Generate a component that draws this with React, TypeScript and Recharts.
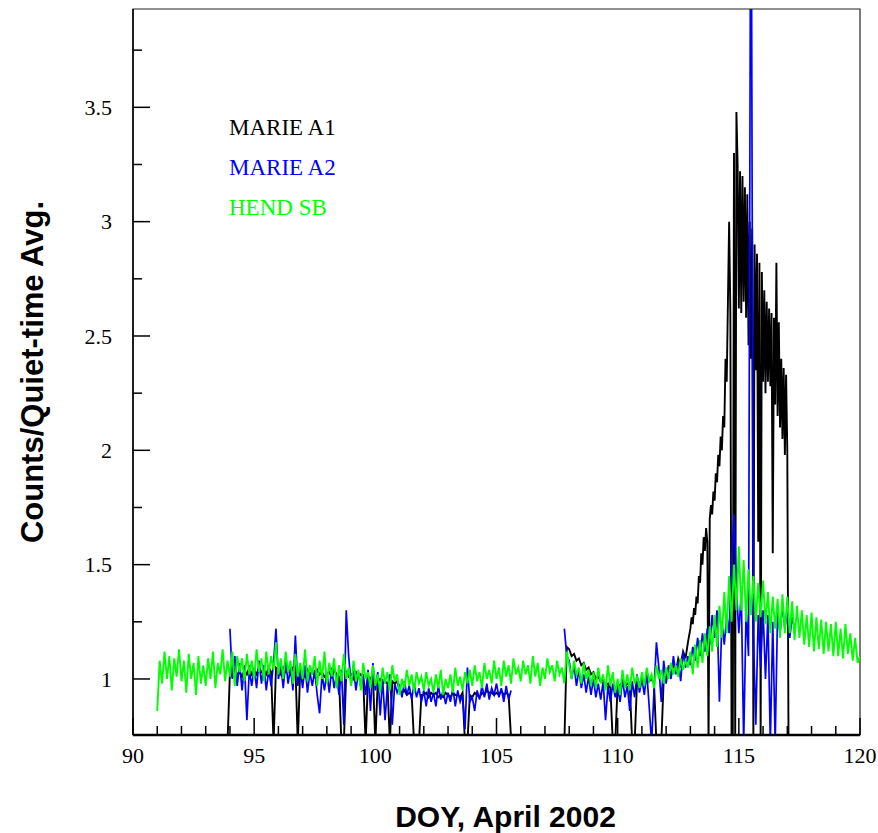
import React from 'react';
import { ComposedChart, Line, XAxis, YAxis, Legend, ReferenceArea, Label } from 'recharts';

const STEP = 0.1;
const FINE_STEP = 0.05;
const HEND_START = 91.0;
const A2_START = 94.0;
const A2_LATE_START = 107.8;
const A1_START = 93.9;
const A1_LATE_START = 107.8;
const A1_PEAK_START = 113.0;

// HEND SB (green), 91.0 .. 120.0 every 0.1 day
const hendSB: number[] = [
  0.86, 1.08, 0.98, 1.12, 1.0, 1.10, 0.95, 1.09, 1.01, 1.13,
  0.99, 1.08, 0.94, 1.11, 1.0, 1.07, 0.93, 1.10, 0.98, 1.06,
  0.97, 1.09, 1.0, 1.12, 0.96, 1.07, 1.02, 1.13, 0.99, 1.08,
  1.01, 1.12, 0.97, 1.10, 1.03, 1.09, 0.99, 1.11, 1.02, 1.08,
  1.0, 1.13, 1.03, 1.09, 0.99, 1.12, 1.02, 1.10, 1.04, 1.16,
  1.02, 1.09, 1.0, 1.12, 1.03, 1.08, 0.98, 1.11, 1.01, 1.07,
  1.0, 1.13, 0.99, 1.06, 1.02, 1.10, 0.97, 1.08, 1.0, 1.12,
  0.98, 1.07, 1.01, 1.09, 0.96, 1.06, 0.99, 1.11, 1.0, 1.05,
  0.97, 1.08, 0.99, 1.04, 0.95, 1.07, 1.0, 1.03, 0.96, 1.06,
  0.97, 1.02, 0.94, 1.05, 0.98, 1.03, 0.95, 1.06, 0.99, 1.02,
  0.93, 1.0, 0.96, 1.04, 0.97, 1.02, 0.94, 1.03, 0.98, 1.01,
  0.95, 1.03, 0.97, 1.0, 0.94, 1.02, 0.96, 1.04, 0.93, 1.0,
  0.96, 1.02, 0.94, 1.05, 0.97, 1.01, 0.95, 1.03, 0.98, 1.04,
  0.97, 1.06, 0.99, 1.03, 0.96, 1.07, 1.0, 1.04, 0.98, 1.08,
  1.0, 1.05, 0.97, 1.08, 1.01, 1.06, 0.98, 1.09, 1.02, 1.05,
  0.99, 1.08, 1.02, 1.06, 0.98, 1.10, 1.01, 1.07, 0.97, 1.05,
  1.0, 1.09, 1.03, 1.06, 0.99, 1.08, 1.02, 1.05, 0.98, 1.12,
  1.06, 1.0, 1.08, 1.02, 1.05, 0.98, 1.07, 1.0, 1.04, 0.97,
  1.03, 0.96, 1.05, 0.98, 1.02, 0.95, 1.06, 0.97, 1.03, 0.94,
  1.0, 0.93, 1.04, 0.96, 1.02, 0.95, 1.05, 0.98, 1.01, 0.96,
  1.03, 0.97, 1.05, 0.99, 1.02, 0.96, 1.06, 1.0, 1.04, 0.98,
  1.05, 1.0, 1.07, 1.02, 1.06, 1.01, 1.09, 1.04, 1.08, 1.05,
  1.12, 1.02, 1.15, 1.05, 1.17, 1.07, 1.2, 1.1, 1.23, 1.12,
  1.28, 1.14, 1.32, 1.18, 1.38, 1.2, 1.45, 1.25, 1.5, 1.3,
  1.58, 1.3, 1.52, 1.25, 1.48, 1.28, 1.45, 1.25, 1.42, 1.27,
  1.43, 1.24, 1.38, 1.2, 1.36, 1.22, 1.35, 1.18, 1.37, 1.2,
  1.36, 1.2, 1.34, 1.17, 1.32, 1.18, 1.3, 1.15, 1.28, 1.14,
  1.29, 1.12, 1.27, 1.13, 1.26, 1.11, 1.25, 1.12, 1.24, 1.1,
  1.25, 1.1, 1.22, 1.09, 1.24, 1.11, 1.2, 1.08, 1.18, 1.07,
  1.1,
];

// MARIE A2 (blue), 94.0 .. 105.6 every 0.1 day
const marieA2: number[] = [
  1.22, 1.0, 1.1, 0.97, 1.07, 0.95, 1.06, 0.82, 1.04, 0.97,
  1.05, 0.96, 1.08, 0.98, 1.06, 0.95, 1.04, 0.97, 1.07, 1.22,
  1.0, 1.06, 0.96, 1.08, 0.98, 1.05, 0.95, 1.19, 0.97, 1.05,
  0.96, 1.06, 0.94, 1.03, 0.97, 1.04, 0.93, 0.85, 1.02, 0.95,
  1.03, 0.94, 1.05, 0.96, 1.02, 0.93, 1.04, 0.8, 1.3, 1.1,
  0.98, 1.05, 0.95, 1.03, 0.97, 1.02, 0.93, 1.04, 0.86, 1.07,
  0.95, 1.03, 0.84, 1.0, 0.82, 0.97, 1.02, 0.8, 0.98, 0.94,
  0.97, 0.92, 0.99, 0.93, 0.97, 0.91, 0.98, 0.92, 0.96, 0.9,
  0.95, 0.88, 0.96, 0.9, 0.94, 0.88, 0.97, 0.91, 0.95, 0.89,
  0.94, 0.9, 0.96, 0.88, 0.95, 0.9, 0.93, 0.78, 1.05, 0.9,
  0.92, 0.86, 0.95, 0.91, 0.97, 0.92, 0.98, 0.91, 0.96, 0.93,
  0.98, 0.92, 0.96, 0.9, 0.97, 0.91, 0.95,
];

// MARIE A2 (blue), 107.8 .. 117.3 every 0.1 day
const marieA2Late: number[] = [
  1.22, 1.1,
  1.08, 1.0, 1.06, 0.97, 1.04, 0.96, 1.02, 0.94, 1.01, 0.93,
  1.0, 0.92, 0.98, 0.91, 0.99, 0.82, 0.97, 0.9, 0.98, 0.92,
  0.96, 0.9, 1.0, 0.92, 0.97, 0.86, 0.99, 0.92, 1.02, 0.94,
  1.0, 0.93, 1.03, 0.88, 0.72, 0.95, 1.16, 1.05, 0.9, 1.08,
  0.98, 1.06, 1.0, 1.1, 1.02, 1.08, 0.99, 1.12, 1.05, 1.1,
  1.06, 1.14, 1.08, 1.18, 1.1, 1.2, 1.12, 1.22, 1.15, 1.28,
  1.18, 1.3, 0.9, 1.25, 1.15, 1.28, 1.2, 1.5, 1.72, 1.4,
  1.2, 1.38, 0.72, 1.3, 1.1, 5.0, 1.2, 0.8, 1.28, 1.05,
  1.3, 1.0, 1.28, 0.72, 1.25, 0.72, 1.3, 1.2, 1.32, 1.22,
  1.3, 1.18, 1.27, 1.22,
];

// MARIE A1 (black), 93.9 .. 105.6 every 0.1 day
const marieA1: number[] = [
  0.72,
  1.03, 1.01, 1.04, 1.02, 1.03, 1.01, 1.04, 1.02, 1.05, 1.02,
  1.04, 1.02, 1.05, 1.03, 1.04, 1.02, 1.05, 1.03, 0.72, 1.05,
  1.04, 1.02, 1.05, 1.03, 1.04, 1.02, 1.05, 1.06, 0.72, 1.04,
  1.03, 1.01, 1.04, 1.02, 1.03, 1.01, 1.04, 1.02, 1.03, 1.01,
  1.02, 1.03, 1.01, 1.04, 1.02, 1.01, 0.72, 0.72, 1.03, 1.01,
  1.02, 1.0, 1.03, 1.01, 1.02, 1.0, 0.72, 1.01, 1.0, 1.02,
  0.72, 0.99, 1.0, 0.98, 0.99, 0.98, 0.72, 0.99, 0.98, 0.99,
  0.95, 0.94, 0.95, 0.93, 0.94, 0.93, 0.72, 0.72, 0.72, 0.93,
  0.93, 0.94, 0.92, 0.94, 0.93, 0.94, 0.92, 0.93, 0.92, 0.94,
  0.93, 0.92, 0.94, 0.93, 0.93, 0.92, 0.94, 0.72, 0.72, 0.93,
  0.92, 0.94, 0.93, 0.92, 0.94, 0.93, 0.95, 0.94, 0.94, 0.93,
  0.94, 0.93, 0.95, 0.93, 0.94, 0.93, 0.74,
];

// MARIE A1 (black), 107.8 .. 112.9 every 0.1 day
const marieA1Late: number[] = [
  0.72, 1.14,
  1.13, 1.1, 1.11, 1.08, 1.09, 1.06, 1.07, 1.04, 1.05, 1.02,
  1.03, 1.0, 1.01, 0.99, 1.0, 0.97, 0.98, 0.96, 0.72, 0.72,
  0.98, 0.97, 0.99, 0.97, 0.98, 0.97, 0.72, 0.72, 0.99, 0.98,
  1.0, 0.98, 1.01, 0.99, 1.0, 0.98, 0.72, 0.72, 0.72, 1.0,
  1.0, 1.05, 1.01, 1.07, 1.03, 1.09, 1.06, 1.12, 1.09, 1.16,
];

// MARIE A1 (black), event part 113.00 .. 117.05 every 0.05 day
const marieA1Peak: number[] = [
  1.22, 1.27, 1.24, 1.31, 1.28, 1.36, 1.33, 1.45, 1.42, 1.55,
  1.5, 1.62, 1.56, 1.66, 1.6, 0.72, 1.7, 1.76, 1.72, 1.82,
  1.78, 1.9, 1.86, 1.98, 1.93, 2.06, 2.0, 2.15, 2.1, 2.4,
  2.3, 2.65, 3.0, 2.6, 0.72, 0.72, 3.3, 0.72, 3.48, 3.25,
  2.62, 3.22, 2.6, 3.2, 2.65, 3.15, 2.58, 3.12, 2.46, 3.0,
  2.4, 2.97, 0.72, 2.9, 2.35, 2.86, 1.6, 2.82, 0.72, 2.78,
  2.3, 2.7, 2.25, 2.65, 2.3, 2.62, 2.28, 2.6, 1.55, 2.58,
  2.2, 2.82, 2.15, 2.56, 2.1, 2.4, 2.05, 2.36, 1.98, 2.33,
  2.0, 0.72,
];

const xTicks = [90, 91, 92, 93, 94, 95, 96, 97, 98, 99, 100, 101, 102, 103, 104, 105, 106, 107, 108, 109, 110, 111, 112, 113, 114, 115, 116, 117, 118, 119, 120];
const xLabelTicks = [90, 95, 100, 105, 110, 115, 120];
const yTicks = [1, 1.25, 1.5, 1.75, 2, 2.25, 2.5, 2.75, 3, 3.25, 3.5, 3.75];
const yLabelTicks = [1, 1.5, 2, 2.5, 3, 3.5];

const X_DOMAIN: [number, number] = [90, 120];
const Y_DOMAIN: [number, number] = [0.755, 3.93];

// drawing order: MARIE A1, MARIE A2, HEND SB (second parts after data gap have no legend entry)
const SERIES = [
  { key: 'a1', name: 'MARIE A1', color: '#000000', width: 1.9, legend: true },
  { key: 'a1b', name: 'MARIE A1 (after gap)', color: '#000000', width: 1.9, legend: false },
  { key: 'a2', name: 'MARIE A2', color: '#0000ff', width: 1.7, legend: true },
  { key: 'a2b', name: 'MARIE A2 (after gap)', color: '#0000ff', width: 1.7, legend: false },
  { key: 'hend', name: 'HEND SB', color: '#00ff00', width: 1.9, legend: true },
];

const SOURCES = [
  { key: 'a1', data: marieA1, start: A1_START, step: STEP },
  { key: 'a1b', data: marieA1Late, start: A1_LATE_START, step: STEP },
  { key: 'a1b', data: marieA1Peak, start: A1_PEAK_START, step: FINE_STEP },
  { key: 'a2', data: marieA2, start: A2_START, step: STEP },
  { key: 'a2b', data: marieA2Late, start: A2_LATE_START, step: STEP },
  { key: 'hend', data: hendSB, start: HEND_START, step: STEP },
];

function buildRows() {
  const map = new Map<number, any>();
  SOURCES.forEach((s) => {
    s.data.forEach((v, i) => {
      const d = Math.round((s.start + i * s.step) * 100) / 100;
      const row = map.get(d) ?? { doy: d };
      row[s.key] = v;
      map.set(d, row);
    });
  });
  return Array.from(map.values()).sort((a, b) => a.doy - b.doy);
}

const rows = buildRows();

const SERIF = '"Liberation Serif", "Times New Roman", serif';
const SANS = '"Liberation Sans", Arial, sans-serif';

const XTick = (props: any) => {
  const { x, y, payload } = props;
  const v = payload.value;
  const major = xLabelTicks.includes(v);
  return (
    <g>
      <line x1={x} x2={x} y1={y} y2={y - (major ? 17 : 9)} stroke="#000" strokeWidth={1.5} />
      {major && (
        <text x={x} y={y + 28} textAnchor="middle" fontFamily={SERIF} fontSize={22} fill="#000">
          {v}
        </text>
      )}
    </g>
  );
};

const YTick = (props: any) => {
  const { x, y, payload } = props;
  const v = payload.value;
  const major = yLabelTicks.includes(v);
  return (
    <g>
      <line x1={x} x2={x + (major ? 17 : 9)} y1={y} y2={y} stroke="#000" strokeWidth={1.5} />
      {major && (
        <text x={x - 21} y={y} dy="0.35em" textAnchor="end" fontFamily={SERIF} fontSize={22} fill="#000">
          {v}
        </text>
      )}
    </g>
  );
};

const XTitle = (props: any) => {
  const vb = props.viewBox || { x: 133, y: 735, width: 727, height: 98 };
  return (
    <text x={vb.x + vb.width / 2 + 9} y={vb.y + 92} textAnchor="middle" fontFamily={SANS} fontWeight="bold" fontSize={30} fill="#000">
      DOY, April 2002
    </text>
  );
};

const YTitle = (props: any) => {
  const vb = props.viewBox || { x: 0, y: 9, width: 133, height: 726 };
  const cx = vb.x + 43;
  const cy = vb.y + vb.height / 2;
  return (
    <text x={cx} y={cy} transform={`rotate(-90 ${cx} ${cy})`} textAnchor="middle" fontFamily={SANS} fontWeight="bold" fontSize={31} fill="#000">
      Counts/Quiet-time Avg.
    </text>
  );
};

const LegendContent = (props: any) => {
  const payload = props.payload || [];
  const order = SERIES.filter((s) => s.legend).map((s) => s.name);
  const items = payload
    .filter((p: any) => order.includes(p.value))
    .sort((a: any, b: any) => order.indexOf(a.value) - order.indexOf(b.value));
  return (
    <div style={{ fontFamily: SERIF, fontSize: 23, lineHeight: '40px', whiteSpace: 'nowrap' }}>
      {items.map((p: any) => (
        <div key={p.value} style={{ color: p.color }}>
          {p.value}
        </div>
      ))}
    </div>
  );
};

export default function App() {
  return (
    <div style={{ position: 'absolute', left: 0, top: 0, background: '#fff' }}>
      <ComposedChart width={878} height={833} data={rows} margin={{ top: 9, right: 18, bottom: 0, left: 0 }}>
        <ReferenceArea x1={90} x2={120} y1={Y_DOMAIN[0]} y2={Y_DOMAIN[1]} fill="none" stroke="#222" strokeWidth={1.2} ifOverflow="visible" />
        <XAxis
          dataKey="doy"
          type="number"
          domain={X_DOMAIN}
          ticks={xTicks}
          interval={0}
          tickSize={0}
          tickMargin={0}
          tick={<XTick />}
          axisLine={{ stroke: '#000', strokeWidth: 2.5 }}
          height={98}
          allowDataOverflow
        >
          <Label content={<XTitle />} />
        </XAxis>
        <YAxis
          type="number"
          domain={Y_DOMAIN}
          ticks={yTicks}
          interval={0}
          tickSize={0}
          tickMargin={0}
          tick={<YTick />}
          axisLine={{ stroke: '#000', strokeWidth: 1.5 }}
          width={133}
          allowDataOverflow
        >
          <Label content={<YTitle />} />
        </YAxis>
        {SERIES.map((s) => (
          <Line
            key={s.key}
            dataKey={s.key}
            name={s.name}
            stroke={s.color}
            strokeWidth={s.width}
            dot={false}
            activeDot={false}
            type="linear"
            connectNulls
            legendType={s.legend ? 'line' : 'none'}
            isAnimationActive={false}
          />
        ))}
        <Legend
          layout="vertical"
          align="center"
          verticalAlign="middle"
          wrapperStyle={{ left: 229, top: 108, width: 'auto' }}
          content={<LegendContent />}
        />
      </ComposedChart>
    </div>
  );
}
